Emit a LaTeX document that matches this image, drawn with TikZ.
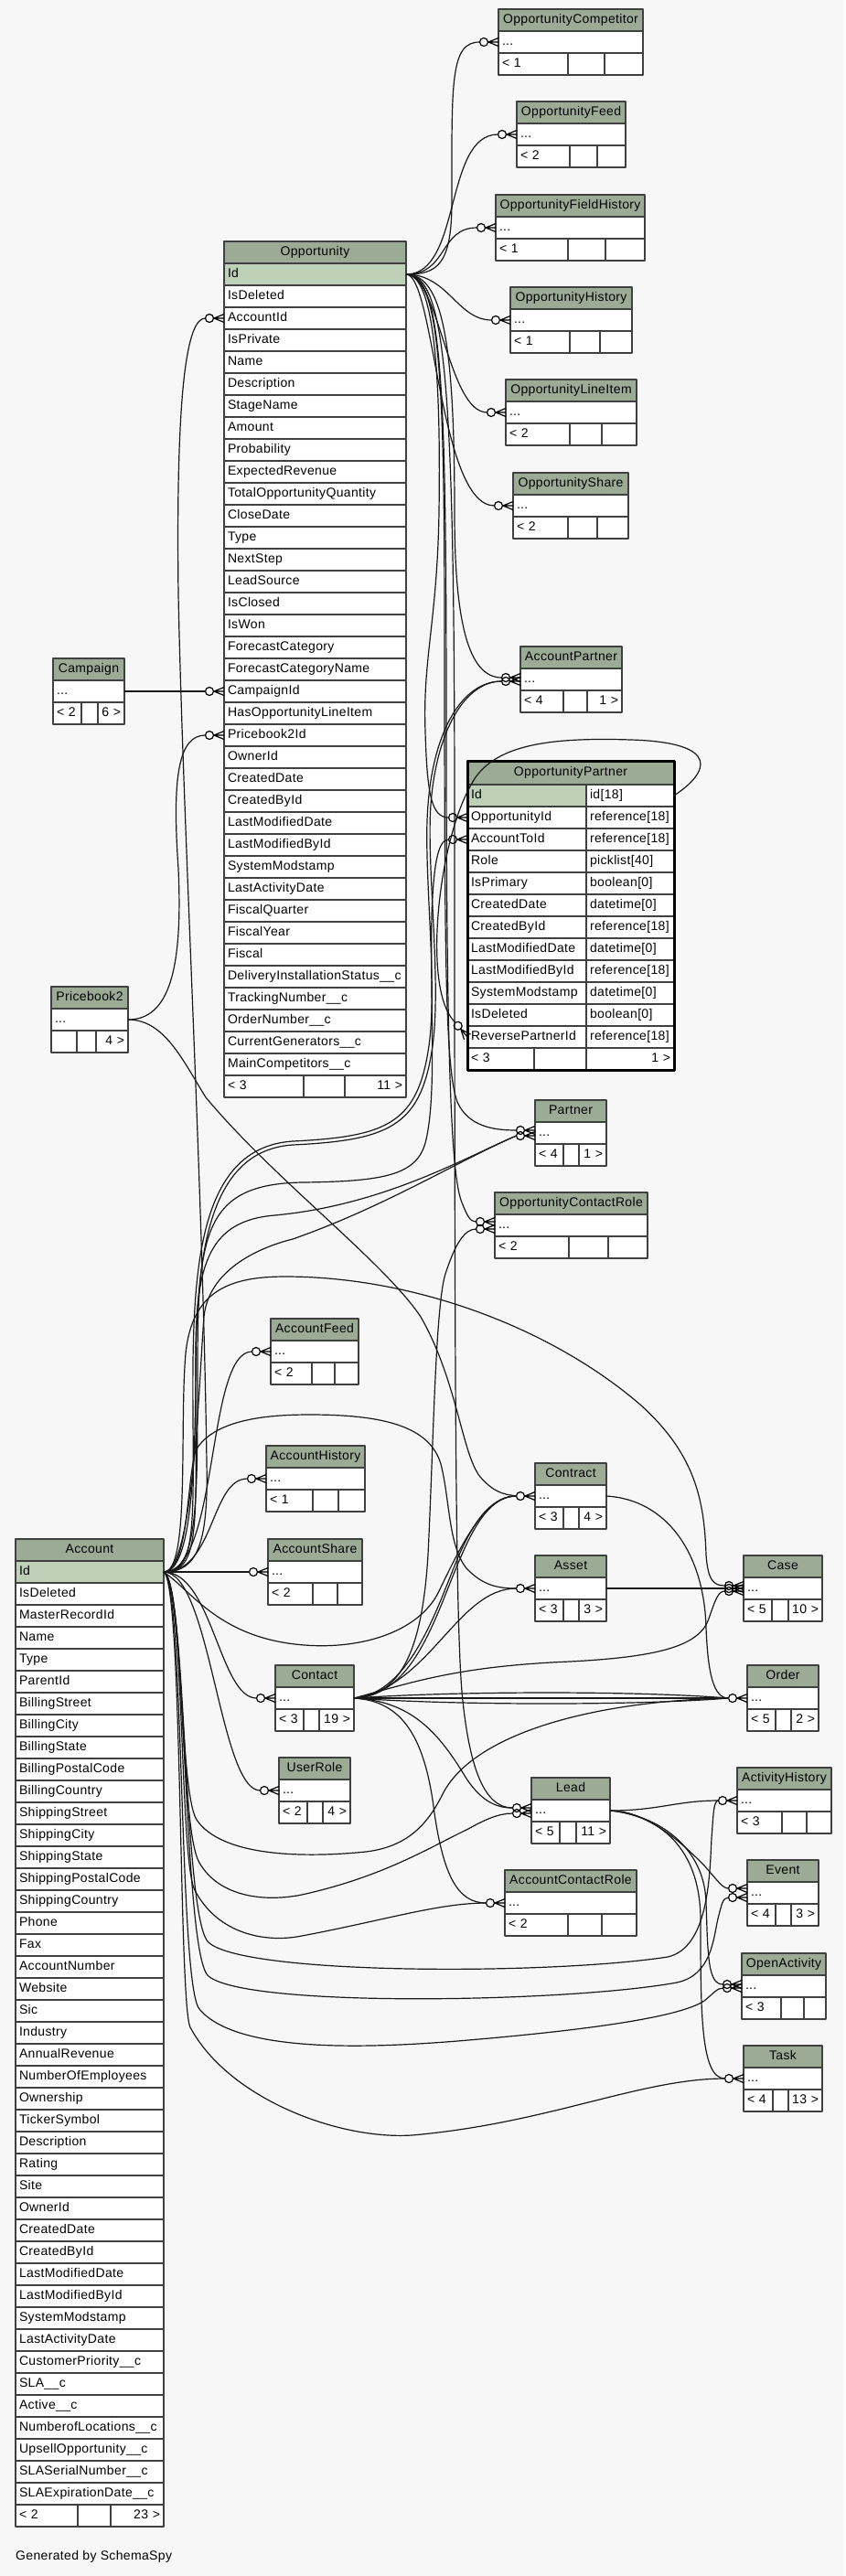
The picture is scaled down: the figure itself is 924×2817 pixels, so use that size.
\documentclass[tikz,border=0pt]{standalone}
\usepackage{fontspec}
\setmainfont{Liberation Sans}[LetterSpace=2.5]
\usetikzlibrary{positioning,calc}
\definecolor{headgreen}{HTML}{9BAB96}
\definecolor{keygreen}{HTML}{BED1B8}
\definecolor{paper}{HTML}{F7F7F7}
\hyphenpenalty=10000
\exhyphenpenalty=10000
\hbadness=10000
\hfuzz=10pt

\tikzset{crowfoot/.pic={
  \draw[line width=1.2pt] (0,-4.5) -- (-11,0) -- (0,4.5) (0,0) -- (-11,0);
  \draw[line width=1.2pt] (-16,0) circle (4.5pt);
}}

% header, "..." row and three footer cells of a folded table
\newcommand{\minitable}[9]{%
  \pgfmathsetlengthmacro\tabw{#4-8}%
  \pgfmathsetlengthmacro\foota{#6-#2-8}%
  \pgfmathsetlengthmacro\footb{#7-#6-8}%
  \pgfmathsetlengthmacro\footc{#2+#4-#7-8}%
  \node[tabhead, text width=\tabw] (#1) at (#2,#3) {#5};
  \node[tabrow, text width=\tabw, below=0pt of #1] (#1-dots) {...};
  \node[tabrow, text width=\foota] (#1-fa) at (#1-dots.south west) {#8};
  \node[tabrow, text width=\footb, right=0pt of #1-fa] (#1-fb) {};
  \node[tabright, text width=\footc, right=0pt of #1-fb] (#1-fc) {#9};
}
\newcommand{\crowat}[3]{%
  \pic at ($(#2.west)+(0,#3)$) {crowfoot};
  \coordinate (#1) at ($(#2.west)+(-20.5,#3)$);
}

\begin{document}
\begin{tikzpicture}[x=1pt, y=-1pt, font=\fontsize{14}{16}\selectfont, line join=round]
\tikzstyle{cellbox}=[draw=black!75, line width=1.2pt, inner xsep=4pt, inner ysep=0pt, outer sep=0pt, minimum height=24pt, text height=10pt, text depth=3pt, anchor=north west]
\tikzstyle{tabhead}=[cellbox, fill=headgreen, align=center]
\tikzstyle{tabrow}=[cellbox, fill=white, align=left]
\tikzstyle{tabkey}=[tabrow, fill=keygreen]
\tikzstyle{tabright}=[cellbox, fill=white, align=right]
\tikzstyle{link}=[line width=1.2pt, draw=black!90]

\fill[paper] (0,0) rectangle (924,2817);
\useasboundingbox (0,0) rectangle (924,2817);

\minitable{OppComp}{545}{10}{158}{OpportunityCompetitor}{621}{661}{< 1}{}
\minitable{OppFeed}{565}{111}{119}{OpportunityFeed}{623}{653}{< 2}{}
\minitable{OppFH}{542}{213}{163}{OpportunityFieldHistory}{621}{662}{< 1}{}
\minitable{OppHist}{558}{314}{133}{OpportunityHistory}{623}{656}{< 1}{}
\minitable{OppLI}{553}{415}{143}{OpportunityLineItem}{623}{658}{< 2}{}
\minitable{OppShare}{561}{517}{126}{OpportunityShare}{621}{653}{< 2}{}
\minitable{AccPart}{569}{707}{111}{AccountPartner}{616}{642}{< 4}{1 >}
\minitable{Campaign}{58}{720}{78}{Campaign}{89}{107}{< 2}{6 >}
\minitable{Price}{56}{1079}{84}{Pricebook2}{84}{105}{}{4 >}
\minitable{Partner}{585}{1203}{78}{Partner}{616}{633}{< 4}{1 >}
\minitable{OCR}{541}{1304}{167}{OpportunityContactRole}{622}{665}{< 2}{}
\minitable{AccFeed}{296}{1442}{96}{AccountFeed}{341}{366}{< 2}{}
\minitable{AccHist}{291}{1581}{108}{AccountHistory}{342}{370}{< 1}{}
\minitable{AccShare}{293}{1683}{103}{AccountShare}{342}{369}{< 2}{}
\minitable{Contact}{301}{1821}{86}{Contact}{332}{349}{< 3}{19 >}
\minitable{UserRole}{305}{1922}{78}{UserRole}{336}{353}{< 2}{4 >}
\minitable{Contract}{585}{1600}{78}{Contract}{616}{633}{< 3}{4 >}
\minitable{Asset}{585}{1701}{78}{Asset}{616}{633}{< 3}{3 >}
\minitable{Case}{813}{1701}{86}{Case}{844}{862}{< 5}{10 >}
\minitable{Order}{817}{1821}{78}{Order}{848}{865}{< 5}{2 >}
\minitable{Lead}{581}{1944}{86}{Lead}{612}{630}{< 5}{11 >}
\minitable{ActHist}{806}{1933}{103}{ActivityHistory}{855}{882}{< 3}{}
\minitable{Event}{817}{2034}{78}{Event}{848}{865}{< 4}{3 >}
\minitable{ACR}{552}{2045}{144}{AccountContactRole}{621}{658}{< 2}{}
\minitable{OpenAct}{811}{2136}{92}{OpenActivity}{854}{879}{< 3}{}
\minitable{Task}{813}{2237}{86}{Task}{845}{862}{< 4}{13 >}

\node[tabhead, text width=191pt] (Opp) at (245,264) {Opportunity};
\node[tabkey, text width=191pt] (Opp-0) at (245,288) {Id};
\foreach \f [count=\i] in {IsDeleted,AccountId,IsPrivate,Name,Description,StageName,Amount,Probability,ExpectedRevenue,TotalOpportunityQuantity,CloseDate,Type,NextStep,LeadSource,IsClosed,IsWon,ForecastCategory,ForecastCategoryName,CampaignId,HasOpportunityLineItem,Pricebook2Id,OwnerId,CreatedDate,CreatedById,LastModifiedDate,LastModifiedById,SystemModstamp,LastActivityDate,FiscalQuarter,FiscalYear,Fiscal,DeliveryInstallationStatus\_\_c,TrackingNumber\_\_c,OrderNumber\_\_c,CurrentGenerators\_\_c,MainCompetitors\_\_c}
  \node[tabrow, text width=191pt] (Opp-\i) at (245,{288+24*\i}) {\f};
\node[tabrow, text width=79pt] (Opp-fa) at (245,1176) {< 3};
\node[tabrow, text width=37pt, right=0pt of Opp-fa] (Opp-fb) {};
\node[tabright, text width=59pt, right=0pt of Opp-fb] (Opp-fc) {11 >};

\node[tabhead, text width=154pt] (Acc) at (17,1683) {Account};
\node[tabkey, text width=154pt] (Acc-0) at (17,1707) {Id};
\foreach \f [count=\i] in {IsDeleted,MasterRecordId,Name,Type,ParentId,BillingStreet,BillingCity,BillingState,BillingPostalCode,BillingCountry,ShippingStreet,ShippingCity,ShippingState,ShippingPostalCode,ShippingCountry,Phone,Fax,AccountNumber,Website,Sic,Industry,AnnualRevenue,NumberOfEmployees,Ownership,TickerSymbol,Description,Rating,Site,OwnerId,CreatedDate,CreatedById,LastModifiedDate,LastModifiedById,SystemModstamp,LastActivityDate,CustomerPriority\_\_c,SLA\_\_c,Active\_\_c,NumberofLocations\_\_c,UpsellOpportunity\_\_c,SLASerialNumber\_\_c,SLAExpirationDate\_\_c}
  \node[tabrow, text width=154pt] (Acc-\i) at (17,{1707+24*\i}) {\f};
\node[tabrow, text width=60pt] (Acc-fa) at (17,2739) {< 2};
\node[tabrow, text width=28pt, right=0pt of Acc-fa] (Acc-fb) {};
\node[tabright, text width=50pt, right=0pt of Acc-fb] (Acc-fc) {23 >};

\node[tabhead, text width=218pt, minimum height=26pt] (OPart) at (511,832) {OpportunityPartner};
\node[tabkey, text width=122pt] (OPart-0) at (511,858) {Id};
\node[tabrow, text width=88pt, right=0pt of OPart-0] (OPart-0-t) {id[18]};
\foreach \f/\t [count=\i] in {OpportunityId/reference[18],AccountToId/reference[18],Role/picklist[40],IsPrimary/boolean[0],CreatedDate/datetime[0],CreatedById/reference[18],LastModifiedDate/datetime[0],LastModifiedById/reference[18],SystemModstamp/datetime[0],IsDeleted/boolean[0],ReversePartnerId/reference[18]} {
  \node[tabrow, text width=122pt] (OPart-\i) at (511,{858+24*\i}) {\f};
  \node[tabrow, text width=88pt, right=0pt of OPart-\i] (OPart-\i-t) {\t};
}
\node[tabrow, text width=65pt] (OPart-fa) at (511,1146) {< 3};
\node[tabrow, text width=49pt, right=0pt of OPart-fa] (OPart-fb) {};
\node[tabright, text width=88pt, right=0pt of OPart-fb] (OPart-fc) {1 >};
\draw[line width=3pt] (OPart.north west) rectangle (OPart-fc.south east);

\node[anchor=west, inner sep=0pt] (credit) at (17,2796) {Generated by SchemaSpy};

\crowat{OppComp-in}{OppComp-dots}{0}
\crowat{OppFeed-in}{OppFeed-dots}{0}
\crowat{OppFH-in}{OppFH-dots}{0}
\crowat{OppHist-in}{OppHist-dots}{0}
\crowat{OppLI-in}{OppLI-dots}{0}
\crowat{OppShare-in}{OppShare-dots}{0}
\crowat{AccPart-in1}{AccPart-dots}{-2}
\crowat{AccPart-in2}{AccPart-dots}{2}
\crowat{OPartOpp-in}{OPart-1}{0}
\crowat{OPartAcc-in}{OPart-2}{0}
\pic[rotate=-50] at (OPart-11.west) {crowfoot};
\coordinate (OPartRev-in) at ($(OPart-11.west)+(-13.2,-15.7)$);
\crowat{OppAcc-in}{Opp-2}{0}
\crowat{OppCamp-in}{Opp-19}{0}
\crowat{OppPrice-in}{Opp-21}{0}
\crowat{Partner-in1}{Partner-dots}{-3}
\crowat{Partner-in2}{Partner-dots}{3}
\crowat{OCR-in1}{OCR-dots}{-4}
\crowat{OCR-in2}{OCR-dots}{4}
\crowat{AccFeed-in}{AccFeed-dots}{0}
\crowat{AccHist-in}{AccHist-dots}{0}
\crowat{AccShare-in}{AccShare-dots}{0}
\crowat{Contact-in}{Contact-dots}{0}
\crowat{UserRole-in}{UserRole-dots}{0}
\crowat{Contract-in}{Contract-dots}{0}
\crowat{Asset-in}{Asset-dots}{0}
\crowat{Case-in0}{Case-dots}{0}
\crowat{Case-in1}{Case-dots}{-3}
\crowat{Case-in2}{Case-dots}{3}
\crowat{Order-in}{Order-dots}{0}
\crowat{Lead-in1}{Lead-dots}{-3}
\crowat{Lead-in2}{Lead-dots}{3}
\crowat{ActHist-in}{ActHist-dots}{0}
\crowat{Event-in1}{Event-dots}{-5}
\crowat{Event-in2}{Event-dots}{5}
\crowat{ACR-in}{ACR-dots}{0}
\crowat{OpenAct-in1}{OpenAct-dots}{-2}
\crowat{OpenAct-in2}{OpenAct-dots}{2}
\crowat{Task-in}{Task-dots}{0}

\draw[link] (Opp-0.east) .. controls (478,300) and (494,290) .. (494,220) .. controls (494,90) and (492,46) .. (OppComp-in);
\draw[link] (Opp-0.east) .. controls (505,300) and (485,147) .. (OppFeed-in);
\draw[link] (Opp-0.east) .. controls (490,300) and (480,249) .. (OppFH-in);
\draw[link] (Opp-0.east) .. controls (490,300) and (500,350) .. (OppHist-in);
\draw[link] (Opp-0.east) .. controls (480,300) and (490,451) .. (OppLI-in);
\draw[link] (Opp-0.east) .. controls (475,300) and (480,553) .. (OppShare-in);
\draw[link] (Opp-0.east) .. controls (485,300) and (497,380) .. (497,560) .. controls (497,680) and (512,741) .. (AccPart-in1);
\draw[link] (Opp-0.east) .. controls (476,300) and (482,420) .. (480,560) .. controls (478,680) and (462,720) .. (465,800) .. controls (467,870) and (472,894) .. (OPartOpp-in);
\draw[link] (Opp-0.east) .. controls (482,300) and (486,420) .. (486,700) .. controls (486,1050) and (487,1170) .. (500,1205) .. controls (512,1232) and (540,1236) .. (Partner-in1);
\draw[link] (Opp-0.east) .. controls (484,300) and (488,420) .. (488,800) .. controls (488,1200) and (495,1290) .. (505,1315) .. controls (511,1330) and (514,1336) .. (OCR-in1);
\draw[link] (Opp-0.east) .. controls (488,300) and (497,420) .. (497,900) .. controls (497,1500) and (498,1790) .. (506,1860) .. controls (514,1935) and (530,1977) .. (Lead-in1);
\draw[link] (OPart-0-t.east) .. controls (775,845) and (790,812) .. (690,809) .. controls (600,806) and (545,815) .. (520,850) .. controls (490,895) and (475,990) .. (478,1050) .. controls (480,1090) and (488,1108) .. (OPartRev-in);

\draw[link] (Campaign-dots.east) -- (OppCamp-in);
\draw[link] (Price-dots.east) .. controls (185,1115) and (200,1060) .. (195,950) .. controls (188,850) and (195,804) .. (OppPrice-in);
\draw[link] (Price-dots.east) .. controls (180,1115) and (200,1160) .. (225,1200) .. controls (300,1290) and (420,1380) .. (460,1440) .. controls (500,1510) and (505,1590) .. (525,1615) .. controls (540,1632) and (550,1634) .. (Contract-in);

\draw[link] (Acc-0.east) -- (AccShare-in);
\draw[link] (Acc-0.east) .. controls (235,1719) and (230,1617) .. (AccHist-in);
\draw[link] (Acc-0.east) .. controls (240,1719) and (225,1478) .. (AccFeed-in);
\draw[link] (Acc-0.east) .. controls (232,1719) and (240,1857) .. (Contact-in);
\draw[link] (Acc-0.east) .. controls (230,1719) and (240,1958) .. (UserRole-in);
\draw[link] (Acc-0.east) .. controls (215,1719) and (228,1690) .. (226,1600) .. controls (222,1300) and (200,900) .. (195,650) .. controls (192,420) and (205,348) .. (OppAcc-in);
\draw[link] (Acc-0.east) .. controls (212,1719) and (212,1680) .. (211,1550) .. controls (210,1400) and (212,1255) .. (320,1248) .. controls (420,1243) and (455,1230) .. (468,1150) .. controls (480,1080) and (462,950) .. (468,880) .. controls (474,800) and (505,745) .. (AccPart-in2);
\draw[link] (Acc-0.east) .. controls (215,1719) and (215,1680) .. (214,1550) .. controls (213,1405) and (215,1259) .. (320,1252) .. controls (424,1247) and (459,1232) .. (472,1150) .. controls (484,1080) and (466,950) .. (471,880) .. controls (477,800) and (508,745) .. (AccPart-in2);
\draw[link] (Acc-0.east) .. controls (216,1719) and (216,1650) .. (216,1500) .. controls (216,1350) and (222,1295) .. (330,1293) .. controls (420,1292) and (455,1285) .. (465,1250) .. controls (478,1200) and (470,1100) .. (472,1000) .. controls (474,950) and (478,918) .. (OPartAcc-in);
\draw[link] (Acc-0.east) .. controls (210,1719) and (214,1600) .. (214,1480) .. controls (214,1380) and (230,1335) .. (300,1329) .. controls (420,1318) and (510,1265) .. (Partner-in2);
\draw[link] (Acc-0.east) .. controls (212,1719) and (218,1500) .. (223,1440) .. controls (228,1390) and (280,1365) .. (320,1355) .. controls (420,1320) and (500,1270) .. (Partner-in2);
\draw[link] (Acc-0.east) .. controls (208,1719) and (196,1560) .. (203,1480) .. controls (210,1412) and (250,1396) .. (312,1396) .. controls (450,1396) and (600,1450) .. (700,1536) .. controls (760,1590) and (770,1640) .. (772,1700) .. controls (774,1728) and (780,1734) .. (Case-in1);
\draw[link] (Acc-0.east) .. controls (206,1719) and (204,1620) .. (214,1586) .. controls (235,1550) and (300,1547) .. (339,1547) .. controls (420,1547) and (470,1560) .. (482,1601) .. controls (492,1640) and (490,1690) .. (510,1715) .. controls (528,1734) and (545,1737) .. (Asset-in);
\draw[link] (Acc-0.east) .. controls (210,1740) and (240,1792) .. (333,1799) .. controls (400,1804) and (460,1782) .. (480,1740) .. controls (505,1688) and (530,1636) .. (Contract-in);
\draw[link] (Acc-0.east) .. controls (200,1730) and (196,1960) .. (215,1990) .. controls (242,2030) and (330,2032) .. (400,2025) .. controls (450,2019) and (470,1990) .. (485,1960) .. controls (520,1895) and (650,1860) .. (Order-in);
\draw[link] (Acc-0.east) .. controls (202,1730) and (196,2000) .. (218,2037) .. controls (240,2075) and (290,2080) .. (330,2072) .. controls (420,2052) and (470,2020) .. (512,2000) .. controls (530,1990) and (545,1983) .. (Lead-in2);
\draw[link] (Acc-0.east) .. controls (202,1730) and (196,2035) .. (213,2067) .. controls (238,2115) and (290,2125) .. (330,2117) .. controls (420,2100) and (480,2081) .. (ACR-in);
\draw[link] (Acc-0.east) .. controls (204,1730) and (200,2090) .. (227,2123) .. controls (260,2160) and (600,2160) .. (730,2140) .. controls (775,2130) and (776,2050) .. (778,2010) .. controls (780,1985) and (780,1969) .. (ActHist-in);
\draw[link] (Acc-0.east) .. controls (204,1730) and (200,2130) .. (227,2160) .. controls (262,2196) and (620,2190) .. (740,2168) .. controls (778,2160) and (780,2120) .. (785,2098) .. controls (789,2083) and (790,2075) .. (Event-in2);
\draw[link] (Acc-0.east) .. controls (202,1730) and (195,2170) .. (218,2197) .. controls (258,2245) and (400,2240) .. (500,2232) .. controls (620,2222) and (740,2208) .. (770,2188) .. controls (780,2180) and (784,2174) .. (OpenAct-in2);
\draw[link] (Acc-0.east) .. controls (200,1730) and (195,2190) .. (208,2217) .. controls (250,2295) and (370,2340) .. (450,2335) .. controls (600,2322) and (700,2273) .. (Task-in);

\draw[link] (Contact-dots.east) .. controls (440,1855) and (462,1800) .. (468,1700) .. controls (474,1580) and (476,1420) .. (488,1390) .. controls (498,1360) and (508,1344) .. (OCR-in2);
\draw[link] (Contact-dots.east) .. controls (450,1852) and (480,1752) .. (500,1705) .. controls (520,1658) and (540,1636) .. (Contract-in);
\draw[link] (Contact-dots.east) .. controls (455,1855) and (478,1760) .. (505,1700) .. controls (524,1656) and (542,1636) .. (Contract-in);
\draw[link] (Contact-dots.east) .. controls (470,1845) and (500,1737) .. (Asset-in);
\draw[link] (Contact-dots.east) .. controls (450,1840) and (500,1822) .. (623,1817) .. controls (720,1812) and (765,1800) .. (775,1770) .. controls (782,1750) and (785,1740) .. (Case-in2);
\draw[link] (Contact-dots.east) .. controls (500,1849) and (700,1849) .. (Order-in);
\draw[link] (Contact-dots.east) -- (Order-in);
\draw[link] (Contact-dots.east) .. controls (500,1865) and (700,1865) .. (Order-in);
\draw[link] (Contact-dots.east) .. controls (450,1860) and (480,1895) .. (510,1945) .. controls (528,1972) and (545,1977) .. (Lead-in1);
\draw[link] (Contact-dots.east) .. controls (440,1860) and (465,1900) .. (475,1983) .. controls (485,2050) and (500,2081) .. (ACR-in);

\draw[link] (Lead-dots.east) .. controls (720,1980) and (740,1969) .. (ActHist-in);
\draw[link] (Lead-dots.east) .. controls (710,1980) and (750,2020) .. (770,2040) .. controls (785,2057) and (790,2065) .. (Event-in1);
\draw[link] (Lead-dots.east) .. controls (720,1985) and (770,2020) .. (772,2080) .. controls (774,2140) and (774,2170) .. (OpenAct-in1);
\draw[link] (Lead-dots.east) .. controls (720,1985) and (766,2020) .. (766,2100) .. controls (766,2200) and (766,2273) .. (Task-in);

\draw[link] (Contract-dots.east) .. controls (730,1640) and (770,1700) .. (772,1780) .. controls (774,1830) and (780,1857) .. (Order-in);
\draw[link] (Asset-dots.east) -- (Case-in0);
\end{tikzpicture}
\end{document}
